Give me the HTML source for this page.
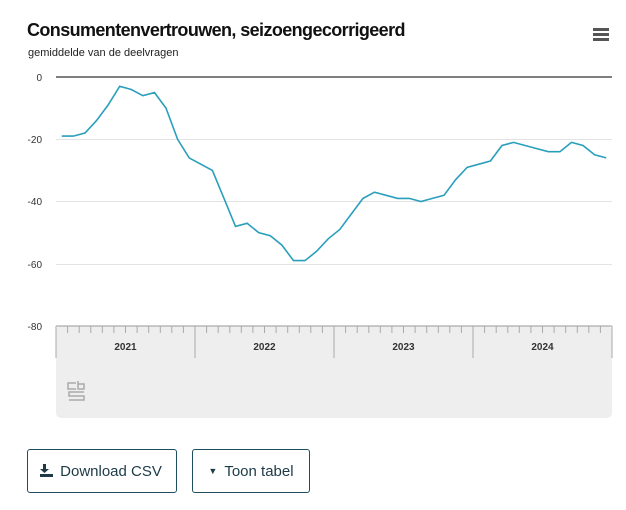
<!DOCTYPE html>
<html><head><meta charset="utf-8"><style>
body{margin:0;background:#fff;width:626px;height:510px;overflow:hidden;font-family:"Liberation Sans",sans-serif;}
.btn{position:absolute;top:449px;height:44px;border:1px solid #1f4f5e;border-radius:3px;box-sizing:border-box;font-size:15px;color:#1d3a47;display:flex;align-items:center;justify-content:center;}
</style></head><body>
<div style="position:absolute;left:27px;top:20px;font-size:18px;font-weight:bold;color:#111;letter-spacing:-0.6px">Consumentenvertrouwen, seizoengecorrigeerd</div>
<div style="position:absolute;left:28px;top:47px;font-size:11px;color:#222">gemiddelde van de deelvragen</div>
<div style="position:absolute;left:593px;top:28px;width:16px">
<div style="height:3px;background:#555;margin-bottom:2px"></div><div style="height:3px;background:#555;margin-bottom:2px"></div><div style="height:3px;background:#555"></div></div>
<svg id="s" width="626" height="510" style="position:absolute;left:0;top:0" xmlns="http://www.w3.org/2000/svg">
<rect x="56" y="326" width="556" height="92" rx="5" fill="#eeeeee"/>
<g stroke="#e3e3e3" stroke-width="1"><line x1="56" x2="612" y1="139.5" y2="139.5"/><line x1="56" x2="612" y1="201.5" y2="201.5"/><line x1="56" x2="612" y1="264.5" y2="264.5"/></g>
<line x1="56" x2="612" y1="77" y2="77" stroke="#555" stroke-width="1.5"/>
<line x1="56" x2="612" y1="326" y2="326" stroke="#999" stroke-width="1"/>
<g font-size="10" fill="#333" text-anchor="end"><text x="42" y="81">0</text><text x="42" y="143">-20</text><text x="42" y="205">-40</text><text x="42" y="268">-60</text><text x="42" y="330">-80</text></g>
<g id="ticks" stroke="#aaa" stroke-width="1"></g>
<g font-size="10" fill="#333" text-anchor="middle" font-weight="bold"><text x="125.5" y="350">2021</text><text x="264.5" y="350">2022</text><text x="403.5" y="350">2023</text><text x="542.5" y="350">2024</text></g>
<path id="p" fill="none" stroke="#2a9fbc" stroke-width="1.6"/>
<g fill="none" stroke="#aaa" stroke-width="1.5"><path d="M76 383h-8v6h8M78 381v8h6v-5h-6"/><path d="M84 392h-15v4h15v4h-15"/></g>
<g fill="#1d3a47"><rect x="43" y="464" width="3" height="7"/><path d="M40 469h9l-4.5 4z"/><rect x="40" y="474" width="13" height="3"/></g>
</svg>
<div class="btn" style="left:27px;width:150px;padding-left:18px">Download CSV</div>
<div class="btn" style="left:192px;width:118px"><span style="font-size:9px;margin-right:7px">▼</span>Toon tabel</div>
<script>
var v=[-19,-19,-18,-14,-9,-3,-4,-6,-5,-10,-20,-26,-28,-30,-39,-48,-47,-50,-51,-54,-59,-59,-56,-52,-49,-44,-39,-37,-38,-39,-39,-40,-39,-38,-33,-29,-28,-27,-22,-21,-22,-23,-24,-24,-21,-22,-25,-26];
var w=556/48,d="";
v.forEach(function(a,i){d+=(i?"L":"M")+(56+w*(i+0.5)).toFixed(1)+" "+(77+(-a)*249/80).toFixed(1);});
document.getElementById("p").setAttribute("d",d);
var t="";for(var i=0;i<=48;i++){var x=(56+w*i).toFixed(1);var big=i%12==0;t+='<line x1="'+x+'" x2="'+x+'" y1="326" y2="'+(big?358:333)+'"/>';}
document.getElementById("ticks").innerHTML=t;
</script>
</body></html>
